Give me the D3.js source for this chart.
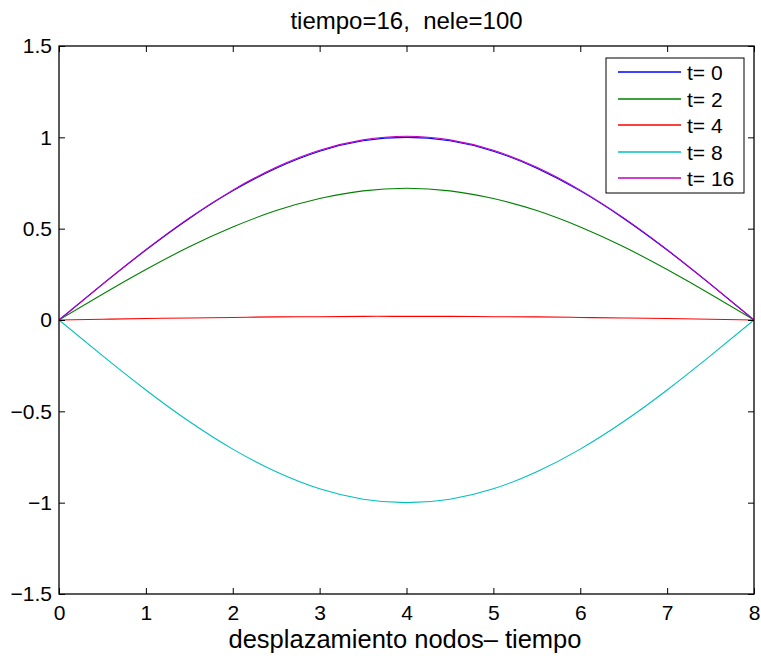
<!DOCTYPE html>
<html><head><meta charset="utf-8">
<script src="https://cdn.jsdelivr.net/npm/d3@7"></script>
<style>body{margin:0;background:#fff}svg{display:block}text{font-family:"Liberation Sans",Arial,sans-serif;white-space:pre}</style>
</head><body>
<svg id="c" width="761" height="659"></svg>
<script>
const xs = [0,0.5,1,1.5,2,2.5,3,3.5,4,4.5,5,5.5,6,6.5,7,7.5,8];
const t0  = [0,0.195,0.383,0.556,0.707,0.831,0.924,0.981,1.0,0.981,0.924,0.831,0.707,0.556,0.383,0.195,0];
const t2  = [0,0.141,0.276,0.401,0.509,0.599,0.665,0.707,0.721,0.707,0.665,0.599,0.509,0.401,0.276,0.141,0];
const t4  = [0,0.004,0.008,0.011,0.014,0.017,0.018,0.02,0.02,0.02,0.018,0.017,0.014,0.011,0.008,0.004,0];
const t8  = [0,-0.195,-0.383,-0.556,-0.707,-0.831,-0.924,-0.981,-1.0,-0.981,-0.924,-0.831,-0.707,-0.556,-0.383,-0.195,0];
const t16 = [0,0.196,0.385,0.559,0.711,0.836,0.929,0.986,1.006,0.986,0.929,0.836,0.711,0.559,0.385,0.196,0];
const seriesNames = ["t= 0","t= 2","t= 4","t= 8","t= 16"];
const seriesColors = ["#0000ff","#008000","#ff0000","#00bfbf","#bf00bf"];
const xTicks = [0,1,2,3,4,5,6,7,8];
const yTicks = [-1.5,-1,-0.5,0,0.5,1,1.5];
const title = "tiempo=16,  nele=100";
const xLabel = "desplazamiento nodos\u2013 tiempo";

const svg = d3.select("#c");
const L=59, R=754, T=46, B=594;
const x = d3.scaleLinear().domain([0,8]).range([L,R]);
const y = d3.scaleLinear().domain([-1.5,1.5]).range([B,T]);
const fmt = v => (v<0 ? "\u2212" + Math.abs(v) : String(v));

const data = [t0,t2,t4,t8,t16];
const line = d3.line().x((d,i)=>x(xs[i])).y(d=>y(d)).curve(d3.curveNatural);
const plot = svg.append("g");
plot.append("clipPath").attr("id","cp").append("rect").attr("x",L).attr("y",T).attr("width",R-L).attr("height",B-T);
data.forEach((s,k)=>{
  plot.append("path").attr("d",line(s)).attr("fill","none").attr("stroke",seriesColors[k]).attr("stroke-width",1.1).attr("clip-path","url(#cp)");
});

svg.append("rect").attr("x",L).attr("y",T).attr("width",R-L).attr("height",B-T).attr("fill","none").attr("stroke","#000").attr("stroke-width",1.3);

const tl = 6;
const xb = svg.append("g").attr("transform",`translate(0,${B})`).call(d3.axisBottom(x).tickValues(xTicks).tickSizeInner(-tl).tickSizeOuter(0).tickFormat(fmt));
const xt = svg.append("g").attr("transform",`translate(0,${T})`).call(d3.axisTop(x).tickValues(xTicks).tickSizeInner(-tl).tickSizeOuter(0).tickFormat(""));
const yl = svg.append("g").attr("transform",`translate(${L},0)`).call(d3.axisLeft(y).tickValues(yTicks).tickSizeInner(-tl).tickSizeOuter(0).tickPadding(7).tickFormat(fmt));
const yr = svg.append("g").attr("transform",`translate(${R},0)`).call(d3.axisRight(y).tickValues(yTicks).tickSizeInner(-tl).tickSizeOuter(0).tickFormat(""));
[xb,xt,yl,yr].forEach(g=>{
  g.select(".domain").remove();
  g.selectAll("line").attr("stroke","#000").attr("stroke-width",1);
  g.selectAll("text").attr("font-size",21).attr("fill","#000").attr("font-family","Liberation Sans, Arial, sans-serif");
});
xb.selectAll("text").attr("dy",null).attr("y",26);

svg.append("text").attr("x",(L+R)/2).attr("y",29).attr("text-anchor","middle").attr("font-size",24).text(title);
svg.append("text").attr("x",405).attr("y",648).attr("text-anchor","middle").attr("font-size",25.5).text(xLabel);

const lg = svg.append("g");
const lx=606, ly=58, lw=138, lh=135;
lg.append("rect").attr("x",lx).attr("y",ly).attr("width",lw).attr("height",lh).attr("fill","#fff").attr("stroke","#000").attr("stroke-width",1);
seriesNames.forEach((n,k)=>{
  const yy = Math.round(ly+14+k*26.5);
  lg.append("line").attr("x1",lx+12).attr("x2",lx+75).attr("y1",yy).attr("y2",yy).attr("stroke",seriesColors[k]).attr("stroke-width",1.4);
  lg.append("text").attr("x",lx+81).attr("y",yy).attr("dy","0.36em").attr("font-size",21).text(n);
});
</script>
</body></html>
